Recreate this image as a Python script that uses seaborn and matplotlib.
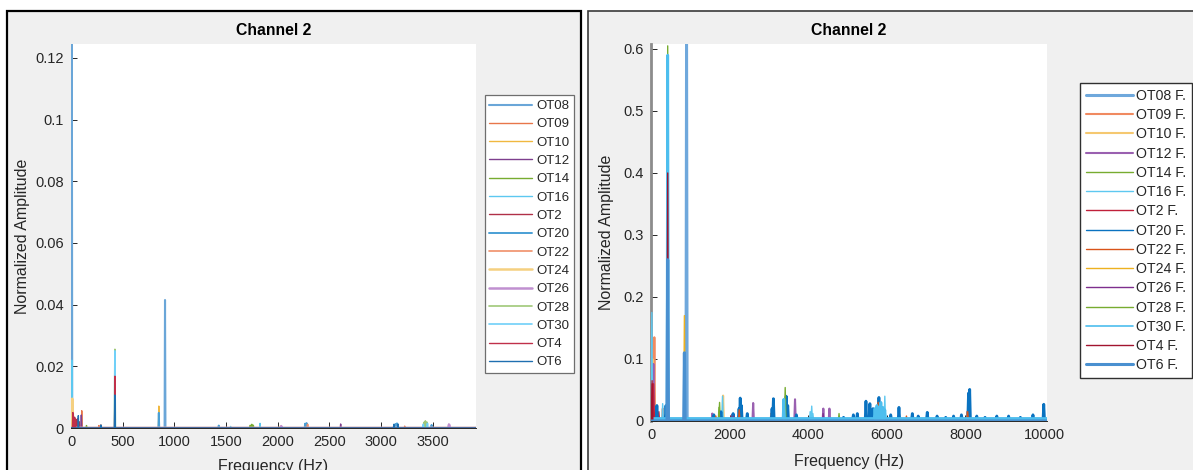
import matplotlib
matplotlib.use("Agg")
import matplotlib.pyplot as plt
from matplotlib.patches import Rectangle
from matplotlib.ticker import FuncFormatter
import pandas as pd
import seaborn as sns

# ---------------------------------------------------------------- series
channels = ["OT08", "OT09", "OT10", "OT12", "OT14", "OT16", "OT2", "OT20",
            "OT22", "OT24", "OT26", "OT28", "OT30", "OT4", "OT6"]
filtered_labels = [c + " F." for c in channels]

# raw spectrum: peak frequencies (Hz) and normalized amplitudes
ot08_raw_hz = [8, 910]
ot08_raw_amp = [0.135, 0.0415]
ot09_raw_hz = [10, 104, 270, 2265, 3230]
ot09_raw_amp = [0.0105, 0.0056, 0.0008, 0.0012, 0.0006]
ot10_raw_hz = [12, 850]
ot10_raw_amp = [0.0110, 0.0071]
ot12_raw_hz = [100, 2610, 3655]
ot12_raw_amp = [0.0042, 0.0013, 0.0012]
ot14_raw_hz = [10, 150, 1735, 1750, 1765]
ot14_raw_amp = [0.0090, 0.0008, 0.0009, 0.0012, 0.0009]
ot16_raw_hz = [8, 1545, 1830]
ot16_raw_amp = [0.0220, 0.0005, 0.0015]
ot2_raw_hz = [14, 22, 35, 50, 65, 80]
ot2_raw_amp = [0.0075, 0.0053, 0.0035, 0.0028, 0.0030, 0.0020]
ot20_raw_hz = [850, 1430, 2266, 2280, 3140, 3155, 3490]
ot20_raw_amp = [0.0049, 0.0008, 0.0014, 0.0016, 0.0013, 0.0015, 0.0010]
ot22_raw_hz = [290, 2290]
ot22_raw_amp = [0.0010, 0.0012]
ot24_raw_hz = [12, 2030]
ot24_raw_amp = [0.0095, 0.0005]
ot26_raw_hz = [2035, 3660]
ot26_raw_amp = [0.0006, 0.0011]
ot28_raw_hz = [425, 3415, 3430, 3445]
ot28_raw_amp = [0.0255, 0.0018, 0.0023, 0.0019]
ot30_raw_hz = [425, 3410, 3450]
ot30_raw_amp = [0.0250, 0.0012, 0.0015]
ot4_raw_hz = [18, 40, 425]
ot4_raw_amp = [0.0050, 0.0030, 0.0168]
ot6_raw_hz = [71, 289, 425, 3125, 3165]
ot6_raw_amp = [0.0040, 0.0010, 0.0107, 0.0012, 0.0013]

# filtered spectrum: peak frequencies (Hz) and normalized amplitudes
ot08_f_hz = [905]
ot08_f_amp = [0.75]
ot09_f_hz = [20, 85, 300, 2250, 3060, 5810, 8050]
ot09_f_amp = [0.115, 0.135, 0.020, 0.020, 0.012, 0.032, 0.015]
ot10_f_hz = [35, 1835, 3470]
ot10_f_amp = [0.100, 0.041, 0.015]
ot12_f_hz = [60, 1560, 2060, 2600, 3665, 4385, 4540]
ot12_f_amp = [0.092, 0.012, 0.010, 0.029, 0.035, 0.020, 0.020]
ot14_f_hz = [12, 140, 1745, 4785]
ot14_f_amp = [0.080, 0.025, 0.030, 0.012]
ot16_f_hz = [22, 297, 1820, 4050, 4090, 4120, 5950]
ot16_f_amp = [0.175, 0.028, 0.040, 0.015, 0.024, 0.012, 0.040]
ot2_f_hz = [28, 45, 65, 120, 200, 2040]
ot2_f_amp = [0.065, 0.050, 0.060, 0.020, 0.015, 0.008]
ot20_f_hz = [150, 381, 1600, 1780, 2090, 2240, 2270, 2300, 2450, 3080,
             3115, 3440, 3480, 3700, 4900, 5150, 5250, 5470, 5570, 5650,
             5800, 6100, 6310, 6650, 6800, 7030, 7280, 7500, 7700, 7900,
             8080, 8110, 8290, 8500, 8800, 9100, 9400, 9720, 9995]
ot20_f_amp = [0.025, 0.025, 0.010, 0.015, 0.012, 0.020, 0.037, 0.025, 0.012,
              0.020, 0.036, 0.040, 0.025, 0.010, 0.006, 0.010, 0.012, 0.032,
              0.028, 0.020, 0.038, 0.010, 0.022, 0.012, 0.008, 0.014, 0.008,
              0.006, 0.008, 0.010, 0.045, 0.051, 0.008, 0.006, 0.008, 0.008,
              0.006, 0.010, 0.027]
ot22_f_hz = [1650, 2245, 3400, 5780, 6500, 8060]
ot22_f_amp = [0.008, 0.018, 0.015, 0.030, 0.008, 0.015]
ot24_f_hz = [850]
ot24_f_amp = [0.170]
ot26_f_hz = [2100, 4380]
ot26_f_amp = [0.008, 0.012]
ot28_f_hz = [425, 1730, 3415]
ot28_f_amp = [0.605, 0.022, 0.054]
ot30_f_hz = [425, 3380, 5700, 5750, 5800, 5850, 5900, 5950]
ot30_f_amp = [0.590, 0.035, 0.020, 0.025, 0.022, 0.030, 0.022, 0.018]
ot4_f_hz = [30, 425]
ot4_f_amp = [0.060, 0.400]
ot6_f_hz = [425, 850]
ot6_f_amp = [0.260, 0.110]

raw_peaks = [
    (ot08_raw_hz, ot08_raw_amp), (ot09_raw_hz, ot09_raw_amp),
    (ot10_raw_hz, ot10_raw_amp), (ot12_raw_hz, ot12_raw_amp),
    (ot14_raw_hz, ot14_raw_amp), (ot16_raw_hz, ot16_raw_amp),
    (ot2_raw_hz, ot2_raw_amp), (ot20_raw_hz, ot20_raw_amp),
    (ot22_raw_hz, ot22_raw_amp), (ot24_raw_hz, ot24_raw_amp),
    (ot26_raw_hz, ot26_raw_amp), (ot28_raw_hz, ot28_raw_amp),
    (ot30_raw_hz, ot30_raw_amp), (ot4_raw_hz, ot4_raw_amp),
    (ot6_raw_hz, ot6_raw_amp),
]
filtered_peaks = [
    (ot08_f_hz, ot08_f_amp), (ot09_f_hz, ot09_f_amp),
    (ot10_f_hz, ot10_f_amp), (ot12_f_hz, ot12_f_amp),
    (ot14_f_hz, ot14_f_amp), (ot16_f_hz, ot16_f_amp),
    (ot2_f_hz, ot2_f_amp), (ot20_f_hz, ot20_f_amp),
    (ot22_f_hz, ot22_f_amp), (ot24_f_hz, ot24_f_amp),
    (ot26_f_hz, ot26_f_amp), (ot28_f_hz, ot28_f_amp),
    (ot30_f_hz, ot30_f_amp), (ot4_f_hz, ot4_f_amp),
    (ot6_f_hz, ot6_f_amp),
]
# resting (noise floor) level of each filtered trace
filtered_floor = [0, 0, 0, 0, 0, 0, 0, 0.003, 0, 0, 0, 0, 0.004, 0, 0]

raw_ticks_x = [0, 500, 1000, 1500, 2000, 2500, 3000, 3500]
raw_ticks_y = [0, 0.02, 0.04, 0.06, 0.08, 0.10, 0.12]
filt_ticks_x = [0, 2000, 4000, 6000, 8000, 10000]
filt_ticks_y = [0, 0.1, 0.2, 0.3, 0.4, 0.5, 0.6]

# ---------------------------------------------------------------- styles
raw_colors = ["#6aa6d8", "#e8764a", "#f0b840", "#7e3f8e", "#77ac30",
              "#5cc8f0", "#b03048", "#4a9fd5", "#f0906a", "#f5d080",
              "#c090d0", "#a0c878", "#70d0f8", "#c0304a", "#1f6fb0"]
raw_widths = [1.5, 1.0, 1.0, 1.0, 1.0, 1.0, 1.0, 1.4, 1.2, 1.8,
              1.8, 1.2, 1.2, 1.0, 1.0]
filt_colors = ["#6fa8dc", "#f08a60", "#f5c870", "#9a60b0", "#77ac30",
               "#5ec8f0", "#c0203a", "#0a72c0", "#d95319", "#edb120",
               "#7e2f8e", "#77ac30", "#4dbeee", "#a2142f", "#4a90d0"]
filt_widths = [2.0, 1.5, 1.5, 1.5, 1.0, 1.0, 1.0, 2.0, 1.0, 1.0,
               1.0, 1.0, 2.0, 1.0, 2.2]
filt_legend_widths = [2.2, 1.5, 1.5, 1.5, 1.0, 1.0, 1.0, 1.0, 1.0, 1.0,
                      1.0, 1.0, 1.2, 1.0, 2.2]

W, H = 1193, 470
AX_COLOR = "#262626"

sns.set_theme(style="white")
plt.rcParams["font.family"] = ["Liberation Sans", "DejaVu Sans"]


def spike_trace(hz, amp, half_width, f_end, floor=0.0):
    """Spectrum trace: resting level with a narrow spike at each peak."""
    xs, ys = [0.0], [floor]
    for f, a in sorted(zip(hz, amp)):
        xs += [max(f - half_width, 0.0), f, f + half_width]
        ys += [floor, a, floor]
    xs.append(f_end)
    ys.append(floor)
    return pd.DataFrame({"hz": xs, "amp": ys})


def style_axes(ax, xlim, ylim, xticks, yticks):
    ax.set_facecolor("white")
    ax.set_xlim(*xlim)
    ax.set_ylim(*ylim)
    ax.set_xticks(xticks)
    ax.set_yticks(yticks)
    fmt = FuncFormatter(lambda v, _: "%g" % round(v, 6))
    ax.xaxis.set_major_formatter(fmt)
    ax.yaxis.set_major_formatter(fmt)
    for side in ("top", "right"):
        ax.spines[side].set_visible(False)
    for side in ("left", "bottom"):
        ax.spines[side].set_color(AX_COLOR)
        ax.spines[side].set_linewidth(0.7)
        ax.spines[side].set_zorder(1)
    ax.tick_params(axis="both", direction="in", length=4, width=0.7,
                   colors=AX_COLOR, labelsize=10.5, pad=5,
                   left=True, bottom=True, top=False, right=False)
    ax.grid(False)


fig = plt.figure(figsize=(W / 100, H / 100), dpi=100, facecolor="white")

# window panels behind the two plots
fig.patches.append(Rectangle((7 / W, -0.02), (581 - 7) / W, 1 - 11 / H + 0.02,
                             transform=fig.transFigure, facecolor="#F0F0F0",
                             edgecolor="black", lw=1.6, zorder=-10))
fig.patches.append(Rectangle((588 / W, -0.02), 0.6, 1 - 11 / H + 0.02,
                             transform=fig.transFigure, facecolor="#F0F0F0",
                             edgecolor="#3a3a3a", lw=1.2, zorder=-10))

ax1 = fig.add_axes([71 / W, 1 - 428 / H, 405 / W, 384 / H])
ax2 = fig.add_axes([651 / W, 1 - 421 / H, 396.3 / W, 377 / H])

raw_xmax, raw_ymax = 3920, 0.1245
filt_xmax, filt_ymax = 10085, 0.608

for label, (hz, amp), color, lw in zip(channels, raw_peaks, raw_colors, raw_widths):
    df = spike_trace(hz, amp, 4, raw_xmax)
    sns.lineplot(data=df, x="hz", y="amp", ax=ax1, color=color, lw=lw,
                 label=label, sort=False, estimator=None, legend=False)

for label, (hz, amp), floor, color, lw in zip(filtered_labels, filtered_peaks,
                                              filtered_floor, filt_colors, filt_widths):
    df = spike_trace(hz, amp, 18, filt_xmax, floor)
    sns.lineplot(data=df, x="hz", y="amp", ax=ax2, color=color, lw=lw,
                 label=label, sort=False, estimator=None, legend=False)

style_axes(ax1, (0, raw_xmax), (0, raw_ymax), raw_ticks_x, raw_ticks_y)
style_axes(ax2, (0, filt_xmax), (0, filt_ymax), filt_ticks_x, filt_ticks_y)
ax2.spines["left"].set_color("#8c8c8c")
ax2.spines["left"].set_linewidth(2.0)

for ax, ylx, xly in ((ax1, -0.100, -0.080), (ax2, -0.094, -0.087)):
    ax.set_title("Channel 2", fontsize=11.3, fontweight="bold", color="black", pad=6.2)
    ax.set_xlabel("Frequency (Hz)", fontsize=11.5, color=AX_COLOR)
    ax.set_ylabel("Normalized Amplitude", fontsize=11.5, color=AX_COLOR)
    ax.yaxis.set_label_coords(ylx, 0.5)
    ax.xaxis.set_label_coords(0.5, xly)

leg1 = ax1.legend(loc="upper left", bbox_to_anchor=(484.7 / W, 1 - 95.3 / H),
                  bbox_transform=fig.transFigure, borderaxespad=0, fontsize=9.5,
                  frameon=True, fancybox=False, framealpha=1, facecolor="white",
                  edgecolor="#6e6e6e", labelspacing=0.46, handlelength=3.27,
                  handletextpad=0.3, borderpad=0.35)
leg1.get_frame().set_linewidth(0.9)
leg2 = ax2.legend(loc="upper left", bbox_to_anchor=(1080 / W, 1 - 83 / H),
                  bbox_transform=fig.transFigure, borderaxespad=0, fontsize=10.2,
                  frameon=True, fancybox=False, framealpha=1, facecolor="white",
                  edgecolor="#303030", labelspacing=0.37, handlelength=3.3,
                  handletextpad=0.2, borderpad=0.42)
leg2.get_frame().set_linewidth(1.0)
for handle, lw in zip(leg2.get_lines(), filt_legend_widths):
    handle.set_linewidth(lw)
for leg in (leg1, leg2):
    for t in leg.get_texts():
        t.set_color(AX_COLOR)

fig.savefig("out.png", dpi=100, facecolor="white")
